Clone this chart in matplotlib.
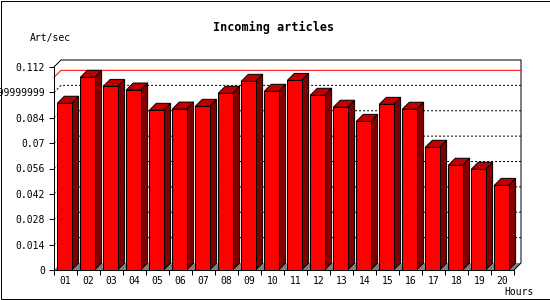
import matplotlib
matplotlib.use("Agg")
import matplotlib.pyplot as plt
from matplotlib.patches import Polygon, Rectangle

hours = ["01", "02", "03", "04", "05", "06", "07", "08", "09", "10",
         "11", "12", "13", "14", "15", "16", "17", "18", "19", "20"]
rates = [0.0920, 0.1063, 0.1013, 0.0993, 0.0881, 0.0888, 0.0903, 0.0975,
         0.1041, 0.0986, 0.1046, 0.0964, 0.0898, 0.0820, 0.0914, 0.0887,
         0.0677, 0.0578, 0.0556, 0.0467]
y_ticks = [0, 0.014, 0.028, 0.042, 0.056, 0.07, 0.084, 0.098, 0.112]
y_tick_labels = ["0", "0.014", "0.028", "0.042", "0.056", "0.07", "0.084",
                 "0.09799999999999999", "0.112"]

W, H = 550, 300
PX = 0.72  # one pixel in points
MONO = "DejaVu Sans Mono"

fig = plt.figure(figsize=(W / 100, H / 100), dpi=100)
fig.patch.set_facecolor("white")
ax = fig.add_axes([54 / W, 30 / H, 460 / W, 203 / H])
ymax = y_ticks[-1]
n = len(hours)
ax.set_xlim(0, n)
ax.set_ylim(0, ymax)
ax.set_facecolor("none")

# 3d depth in data units (7 px each way)
dx = 7 * n / 460
dy = 7 * ymax / 203

# floor
ax.add_patch(Polygon([(0, 0), (n, 0), (n + dx, dy), (dx, dy)], closed=True,
                     facecolor="#808080", edgecolor="none", zorder=1, clip_on=False))

# grid on back wall
for v in y_ticks[1:-1]:
    ax.plot([0, dx, n + dx], [v, v + dy, v + dy], color="black", lw=PX,
            linestyle=(0, (2, 2)), zorder=1.5, clip_on=False)

# back wall frame
ax.plot([0, dx, n + dx, n + dx, n], [ymax, ymax + dy, ymax + dy, dy, 0],
        color="black", lw=PX, zorder=2, clip_on=False)

# max line
top = max(rates)
ax.plot([0, dx, n + dx], [top, top + dy, top + dy], color="#ff0000", lw=PX,
        zorder=2.5, clip_on=False)

# bars
bw = 14.3 / 23
off = 3.3 / 23
for i, v in enumerate(rates):
    x0 = i + off
    x1 = x0 + bw
    kw = dict(closed=True, edgecolor="black", lw=PX, clip_on=False, zorder=3)
    ax.add_patch(Polygon([(x1, 0), (x1 + dx, dy), (x1 + dx, v + dy), (x1, v)],
                         facecolor="#800000", **kw))
    ax.add_patch(Polygon([(x0, v), (x1, v), (x1 + dx, v + dy), (x0 + dx, v + dy)],
                         facecolor="#c00000", **kw))
    ax.add_patch(Polygon([(x0, 0), (x1, 0), (x1, v), (x0, v)],
                         facecolor="#ff0000", **kw))

for s in ["top", "right"]:
    ax.spines[s].set_visible(False)
for s in ["left", "bottom"]:
    ax.spines[s].set_linewidth(PX)
    ax.spines[s].set_zorder(4)

ax.set_yticks(y_ticks)
ax.set_yticklabels(y_tick_labels, fontfamily=MONO, fontsize=7)
ax.tick_params(axis="y", length=3.6, width=PX, pad=2.9)

ax.set_xticks(range(n + 1))
ax.set_xticklabels([])
ax.set_xticks([i + 0.5 for i in range(n)], minor=True)
ax.set_xticklabels(hours, minor=True, fontfamily=MONO, fontsize=7)
ax.tick_params(axis="x", which="major", length=3.6, width=PX)
ax.tick_params(axis="x", which="minor", length=0, pad=4)

fig.text(274 / W, 1 - 27.5 / H, "Incoming articles", ha="center", va="center",
         fontfamily=MONO, fontsize=8.5, fontweight="bold")
fig.text(30 / W, 1 - 37.5 / H, "Art/sec", ha="left", va="center",
         fontfamily=MONO, fontsize=7)
fig.text(534 / W, 1 - 292 / H, "Hours", ha="right", va="center",
         fontfamily=MONO, fontsize=7)

fig.patches.append(Rectangle((0.5 / W, 1.5 / H), 549 / W, 298 / H, fill=False,
                             edgecolor="black", lw=PX, transform=fig.transFigure))

fig.savefig("out.png", dpi=100)
